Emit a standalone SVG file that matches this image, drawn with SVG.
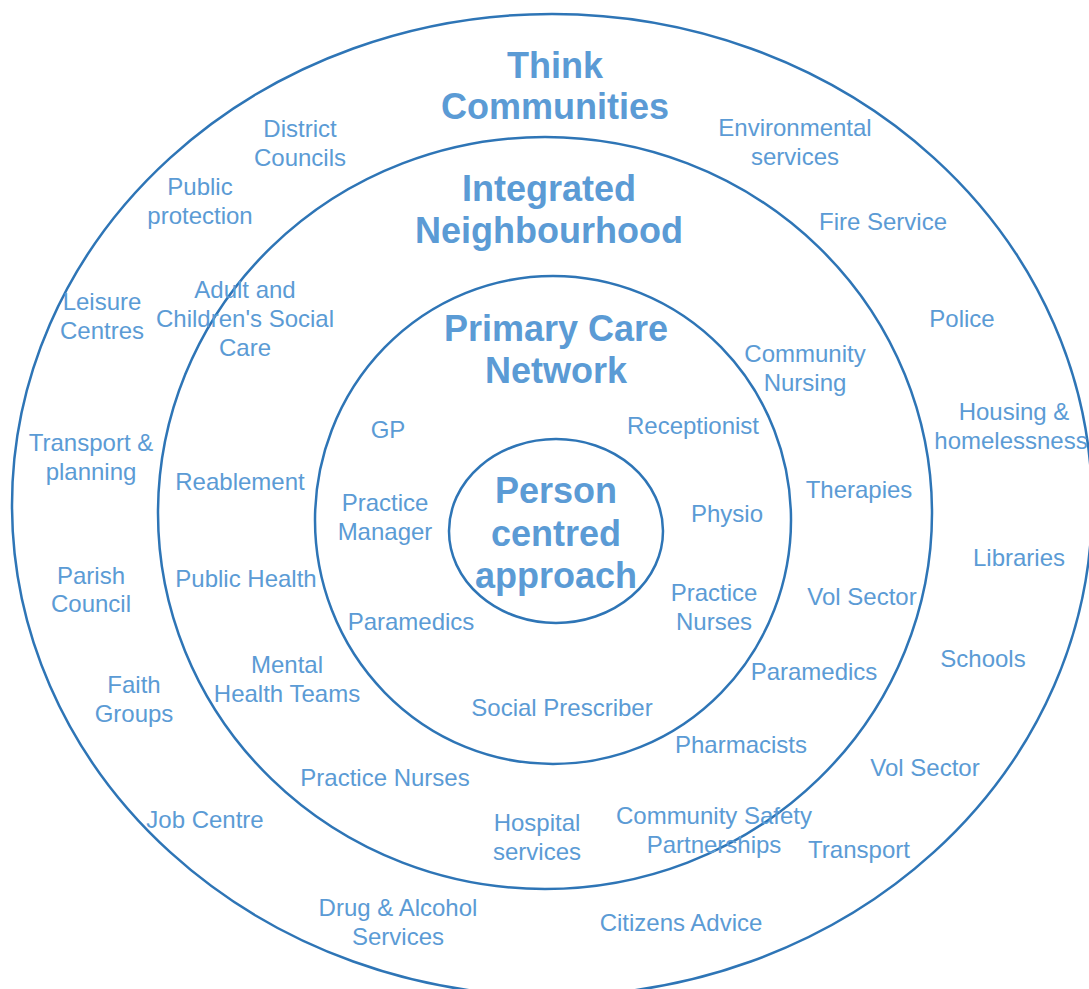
<svg xmlns="http://www.w3.org/2000/svg" width="1089" height="989" viewBox="0 0 1089 989">
<style>
.ring{fill:none;stroke:#2E75B6;stroke-width:2.5}
.t{font-family:"Liberation Sans",Arial,sans-serif;font-size:24px;fill:#5B9BD5;text-anchor:middle}
.h{font-family:"Liberation Sans",Arial,sans-serif;font-size:36px;font-weight:bold;fill:#5B9BD5;text-anchor:middle}
</style>
<rect width="1089" height="989" fill="#fff"/>
<g id="rings">
<ellipse id="ring-think" class="ring" cx="552" cy="505" rx="540" ry="491"/>
<ellipse id="ring-integrated" class="ring" cx="545" cy="513" rx="387" ry="376"/>
<ellipse id="ring-pcn" class="ring" cx="553" cy="520" rx="238" ry="244"/>
<ellipse id="ring-person" class="ring" cx="556" cy="531" rx="107" ry="92"/>
</g>
<g id="titles">
<text class="h" x="555" y="78">Think</text>
<text class="h" x="555" y="119">Communities</text>
<text class="h" x="549" y="201">Integrated</text>
<text class="h" x="549" y="243">Neighbourhood</text>
<text class="h" x="556" y="341">Primary Care</text>
<text class="h" x="556" y="383">Network</text>
<text class="h" x="556" y="503">Person</text>
<text class="h" x="556" y="546">centred</text>
<text class="h" x="556" y="588">approach</text>
</g>
<g id="labels">
<text class="t" x="300" y="137">District</text><text class="t" x="300" y="166">Councils</text>
<text class="t" x="795" y="136">Environmental</text><text class="t" x="795" y="165">services</text>
<text class="t" x="200" y="195">Public</text><text class="t" x="200" y="224">protection</text>
<text class="t" x="883" y="230">Fire Service</text>
<text class="t" x="102" y="310">Leisure</text><text class="t" x="102" y="339">Centres</text>
<text class="t" x="245" y="298">Adult and</text><text class="t" x="245" y="327">Children's Social</text><text class="t" x="245" y="356">Care</text>
<text class="t" x="962" y="327">Police</text>
<text class="t" x="805" y="362">Community</text><text class="t" x="805" y="391">Nursing</text>
<text class="t" x="1014" y="420">Housing &amp;</text><text class="t" x="1011" y="449">homelessness</text>
<text class="t" x="91" y="451">Transport &amp;</text><text class="t" x="91" y="480">planning</text>
<text class="t" x="388" y="438">GP</text>
<text class="t" x="693" y="434">Receptionist</text>
<text class="t" x="240" y="490">Reablement</text>
<text class="t" x="859" y="498">Therapies</text>
<text class="t" x="385" y="511">Practice</text><text class="t" x="385" y="540">Manager</text>
<text class="t" x="727" y="522">Physio</text>
<text class="t" x="1019" y="566">Libraries</text>
<text class="t" x="91" y="584">Parish</text><text class="t" x="91" y="612">Council</text>
<text class="t" x="246" y="587">Public Health</text>
<text class="t" x="862" y="605">Vol Sector</text>
<text class="t" x="714" y="601">Practice</text><text class="t" x="714" y="630">Nurses</text>
<text class="t" x="411" y="630">Paramedics</text>
<text class="t" x="983" y="667">Schools</text>
<text class="t" x="814" y="680">Paramedics</text>
<text class="t" x="287" y="673">Mental</text><text class="t" x="287" y="702">Health Teams</text>
<text class="t" x="134" y="693">Faith</text><text class="t" x="134" y="722">Groups</text>
<text class="t" x="562" y="716">Social Prescriber</text>
<text class="t" x="741" y="753">Pharmacists</text>
<text class="t" x="925" y="776">Vol Sector</text>
<text class="t" x="385" y="786">Practice Nurses</text>
<text class="t" x="205" y="828">Job Centre</text>
<text class="t" x="537" y="831">Hospital</text><text class="t" x="537" y="860">services</text>
<text class="t" x="714" y="824">Community Safety</text><text class="t" x="714" y="853">Partnerships</text>
<text class="t" x="859" y="858">Transport</text>
<text class="t" x="398" y="916">Drug &amp; Alcohol</text><text class="t" x="398" y="945">Services</text>
<text class="t" x="681" y="931">Citizens Advice</text>
</g>
</svg>
